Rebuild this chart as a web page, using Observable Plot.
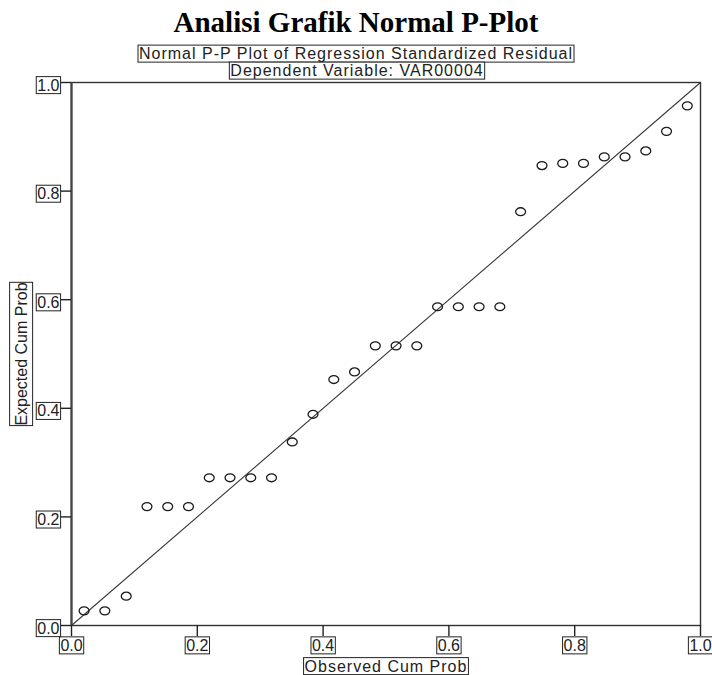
<!DOCTYPE html>
<html><head><meta charset="utf-8">
<script src="https://cdn.jsdelivr.net/npm/d3@7"></script>
<script src="https://cdn.jsdelivr.net/npm/@observablehq/plot@0.6"></script>
<style>
body{margin:0;background:#fff;}
#title{width:712px;height:40px;box-sizing:border-box;padding-top:4px;line-height:36px;text-align:center;font-family:"Liberation Serif","Times New Roman",serif;font-weight:bold;font-size:29px;color:#000;white-space:nowrap;}
</style></head><body>
<div id="title"></div>
<div id="chart"></div>
<script>
const chartTitle = "Analisi Grafik Normal P-Plot";
const subtitle1 = "Normal P-P Plot of Regression Standardized Residual";
const subtitle2 = "Dependent Variable: VAR00004";
const xLabel = "Observed Cum Prob";
const yLabel = "Expected Cum Prob";
const tickValues = [0, 0.2, 0.4, 0.6, 0.8, 1.0];
const referenceLine = [0, 1];
const observedCumProb = [0.020, 0.053, 0.087, 0.120, 0.153, 0.186, 0.219, 0.252, 0.285, 0.318,
  0.351, 0.384, 0.417, 0.450, 0.483, 0.516, 0.549, 0.582, 0.615, 0.648,
  0.681, 0.714, 0.748, 0.781, 0.814, 0.847, 0.880, 0.913, 0.946, 0.979];
const expectedCumProb = [0.027, 0.027, 0.054, 0.219, 0.219, 0.219, 0.272, 0.272, 0.272, 0.272,
  0.338, 0.389, 0.453, 0.467, 0.515, 0.515, 0.515, 0.587, 0.587, 0.587,
  0.587, 0.762, 0.847, 0.851, 0.851, 0.863, 0.863, 0.874, 0.910, 0.957];

document.getElementById("title").textContent = chartTitle;

const points = observedCumProb.map((x, i) => ({x, y: expectedCumProb[i]}));

// open ellipse symbol (SPSS-style markers are slightly wider than tall)
const ellipse = {
  draw(ctx, size) {
    const r = Math.sqrt(size / Math.PI), rx = r * 1.1, ry = r * 0.88, k = 0.5523;
    ctx.moveTo(rx, 0);
    ctx.bezierCurveTo(rx, k * ry, k * rx, ry, 0, ry);
    ctx.bezierCurveTo(-k * rx, ry, -rx, k * ry, -rx, 0);
    ctx.bezierCurveTo(-rx, -k * ry, -k * rx, -ry, 0, -ry);
    ctx.bezierCurveTo(k * rx, -ry, rx, -k * ry, rx, 0);
    ctx.closePath();
  }
};

const plot = Plot.plot({
  width: 712, height: 635,
  marginTop: 42, marginRight: 12, marginBottom: 50, marginLeft: 71,
  style: {fontFamily: "'Liberation Sans', Arial, sans-serif", fontSize: "16px", background: "#fff", color: "#222"},
  x: {domain: [0, 1]},
  y: {domain: [0, 1]},
  marks: [
    Plot.line(referenceLine, {x: d => d, y: d => d, stroke: "#3a3a3a", strokeWidth: 1.1}),
    Plot.dot(points, {x: "x", y: "y", r: 4.5, symbol: ellipse, stroke: "#1a1a1a", strokeWidth: 1.3, fill: "none"}),
    Plot.frame({stroke: "#333", strokeWidth: 1.4}),
    Plot.ruleX([0], {stroke: "#444", strokeWidth: 2.2}),
    Plot.axisX(tickValues, {tickSize: 11, tickPadding: 3, tickFormat: d3.format(".1f"), label: null, color: "#222"}),
    Plot.axisY(tickValues, {tickSize: 10, tickPadding: 2, tickFormat: d3.format(".1f"), label: null, color: "#222"}),
    Plot.text([subtitle1], {frameAnchor: "top", text: d => d, dx: -30, dy: -28.5, lineAnchor: "middle", textAnchor: "middle", fill: "#222"}),
    Plot.text([subtitle2], {frameAnchor: "top", text: d => d, dx: -29, dy: -11.5, lineAnchor: "middle", textAnchor: "middle", fill: "#222"}),
    Plot.text([xLabel], {frameAnchor: "bottom", text: d => d, dy: 41, lineAnchor: "middle", textAnchor: "middle", fill: "#222"}),
    Plot.text([yLabel], {frameAnchor: "left", text: d => d, dx: -50, rotate: -90, lineAnchor: "middle", textAnchor: "middle", fill: "#222"})
  ]
});

document.getElementById("chart").append(plot);
const svg = d3.select(plot);

const horizontalTitles = [subtitle1, subtitle2, xLabel];
const hText = svg.selectAll("text").filter(function() { return horizontalTitles.includes(this.textContent); });
const vText = svg.selectAll("text").filter(function() { return this.textContent === yLabel; });
hText.style("letter-spacing", "1px");
svg.selectAll('g[aria-label$="tick"]').attr("stroke-width", 1.4);

// y tick labels sit slightly below their ticks in the reference
svg.selectAll('g[aria-label^="y-axis tick label"]').each(function() {
  const t = this.getAttribute("transform") || "";
  this.setAttribute("transform", t + " translate(0,3)");
});

function boxify(selection, px, py) {
  selection.each(function() {
    const b = this.getBBox();
    const r = document.createElementNS("http://www.w3.org/2000/svg", "rect");
    r.setAttribute("x", b.x - px);
    r.setAttribute("y", b.y - py);
    r.setAttribute("width", b.width + 2 * px);
    r.setAttribute("height", b.height + 2 * py);
    const tr = this.getAttribute("transform");
    if (tr) r.setAttribute("transform", tr);
    r.setAttribute("fill", "#fff");
    r.setAttribute("stroke", "#222");
    r.setAttribute("stroke-width", 1);
    this.parentNode.insertBefore(r, this);
  });
}
boxify(svg.selectAll('g[aria-label$="tick label"] text'), 1, 0);
boxify(hText, 1, 0);
boxify(vText, 0, 3);
</script>
</body></html>
